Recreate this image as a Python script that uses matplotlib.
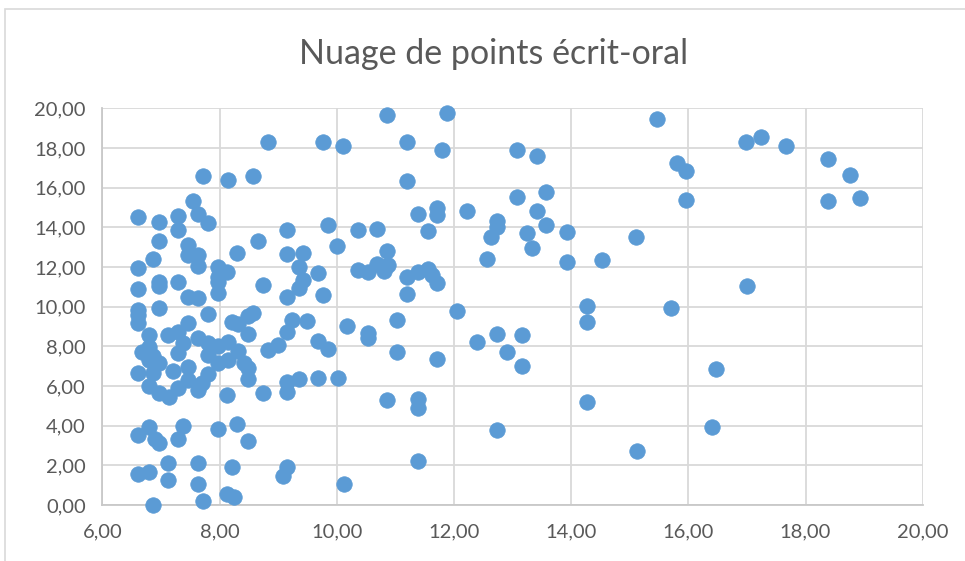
import matplotlib
matplotlib.use("Agg")
import matplotlib.pyplot as plt
from matplotlib.ticker import FuncFormatter, MultipleLocator
from matplotlib.patches import Rectangle

title = "Nuage de points écrit-oral"

ecrit = [
    10.86, 11.89, 15.46, 16.99, 17.24, 17.67, 8.82, 9.76, 10.10, 11.20,
    11.80, 13.08, 13.41, 15.80, 15.96, 18.39, 18.76, 7.71, 8.14, 8.58,
    11.20, 7.54, 15.96, 18.39, 18.93, 13.08, 13.58, 13.41, 12.22, 11.72,
    11.72, 11.38, 6.61, 6.96, 7.29, 7.64, 7.81, 7.29, 9.16, 9.86,
    10.37, 10.68, 11.55, 13.58, 13.25, 13.93, 12.74, 12.74, 12.64, 15.11,
    6.96, 7.47, 8.65, 10.01, 13.33, 10.86, 7.47, 7.64, 8.30, 9.16,
    9.42, 12.56, 13.93, 14.52, 6.87, 7.64, 6.61, 7.98, 8.13, 9.35,
    10.69, 10.88, 10.37, 10.53, 10.80, 11.38, 11.55, 11.20, 11.62, 11.72,
    9.68, 7.98, 9.42, 7.98, 6.96, 6.96, 7.29, 8.74, 17.00, 6.61,
    9.35, 7.98, 11.20, 9.76, 7.47, 7.64, 9.16, 14.27, 15.70, 12.05,
    6.61, 6.61, 6.61, 6.96, 7.81, 7.47, 8.21, 8.31, 8.48, 8.58,
    9.24, 9.49, 10.18, 11.03, 14.27, 8.48, 9.16, 10.53, 10.53, 12.74,
    13.16, 12.39, 6.79, 7.12, 7.29, 7.38, 7.64, 7.81, 7.98, 8.15,
    8.32, 8.99, 8.82, 9.68, 9.85, 11.03, 12.91, 6.67, 6.79, 6.79,
    6.96, 7.29, 7.81, 7.98, 8.15, 8.41, 8.49, 11.72, 13.16, 16.47,
    6.61, 6.87, 7.21, 7.47, 7.47, 7.81, 7.70, 8.48, 9.16, 9.36,
    9.68, 10.02, 6.79, 6.96, 7.13, 7.29, 7.64, 8.13, 8.75, 9.16,
    10.86, 11.38, 11.38, 14.27, 8.30, 6.79, 6.61, 6.90, 6.96, 7.38,
    7.29, 7.98, 8.48, 12.74, 16.40, 15.12, 11.38, 7.12, 7.64, 8.22,
    9.16, 9.08, 6.61, 6.79, 7.12, 7.64, 10.12, 6.87, 7.71, 8.13,
    8.24, 6.87,
]

oral = [
    19.66, 19.78, 19.44, 18.28, 18.54, 18.10, 18.28, 18.28, 18.08, 18.28,
    17.90, 17.90, 17.61, 17.26, 16.84, 17.43, 16.64, 16.59, 16.37, 16.58,
    16.35, 15.35, 15.38, 15.34, 15.49, 15.54, 15.80, 14.84, 14.84, 14.98,
    14.62, 14.67, 14.52, 14.28, 14.55, 14.68, 14.20, 13.88, 13.84, 14.12,
    13.84, 13.89, 13.81, 14.12, 13.73, 13.78, 14.33, 14.00, 13.50, 13.50,
    13.32, 13.12, 13.33, 13.07, 12.94, 12.82, 12.60, 12.60, 12.69, 12.65,
    12.69, 12.40, 12.27, 12.35, 12.40, 12.05, 11.93, 12.01, 11.76, 11.99,
    12.16, 12.08, 11.85, 11.76, 11.78, 11.76, 11.90, 11.51, 11.59, 11.19,
    11.71, 11.51, 11.36, 11.26, 11.26, 11.05, 11.25, 11.08, 11.04, 10.88,
    10.92, 10.70, 10.63, 10.59, 10.48, 10.43, 10.48, 10.05, 9.92, 9.78,
    9.82, 9.57, 9.18, 9.91, 9.63, 9.20, 9.24, 9.14, 9.52, 9.66,
    9.32, 9.29, 9.03, 9.34, 9.22, 8.62, 8.72, 8.65, 8.40, 8.62,
    8.57, 8.24, 8.58, 8.57, 8.74, 8.17, 8.40, 8.17, 8.00, 8.23,
    7.75, 8.06, 7.80, 8.25, 7.86, 7.73, 7.73, 7.70, 7.98, 7.31,
    7.14, 7.68, 7.56, 7.14, 7.31, 7.14, 6.89, 7.35, 7.02, 6.85,
    6.68, 6.63, 6.76, 6.97, 6.30, 6.58, 6.13, 6.33, 6.21, 6.33,
    6.42, 6.42, 6.00, 5.63, 5.46, 5.88, 5.80, 5.55, 5.63, 5.71,
    5.29, 5.33, 4.89, 5.20, 4.08, 3.92, 3.53, 3.31, 3.15, 3.98,
    3.31, 3.82, 3.23, 3.79, 3.95, 2.73, 2.21, 2.10, 2.13, 1.93,
    1.90, 1.46, 1.56, 1.67, 1.26, 1.04, 1.04, 0.00, 0.21, 0.53,
    0.41, 7.50,
]

x_min, x_max, x_step = 6, 20, 2
y_min, y_max, y_step = 0, 20, 2

W, H = 965, 561
fig = plt.figure(figsize=(W / 100, H / 100), dpi=100)
fig.patch.set_facecolor("white")

# outer chart border
fig.patches.append(Rectangle((5 / W, -0.02), 1.1, 1 - 9 / H + 0.02, transform=fig.transFigure,
                             fill=False, edgecolor="#d9d9d9", linewidth=1.2))

ax = fig.add_axes([102.3 / W, 1 - 505 / H, (922.7 - 102.3) / W, (505 - 108.3) / H])
ax.scatter(ecrit, oral, s=125, color="#5b9bd5", edgecolors="#5b9bd5", linewidths=0.5, zorder=3, clip_on=False)

ax.set_xlim(x_min, x_max)
ax.set_ylim(y_min, y_max)
ax.xaxis.set_major_locator(MultipleLocator(x_step))
ax.yaxis.set_major_locator(MultipleLocator(y_step))
fmt = FuncFormatter(lambda v, p: f"{v:.2f}".replace(".", ","))
ax.xaxis.set_major_formatter(fmt)
ax.yaxis.set_major_formatter(fmt)

ax.grid(True, color="#d9d9d9", linewidth=1.3, zorder=0)
ax.set_axisbelow(True)
for side in ["top", "right"]:
    ax.spines[side].set_visible(False)
ax.spines["left"].set_color("#c8c8c8")
ax.spines["bottom"].set_color("#c8c8c8")
ax.spines["left"].set_linewidth(1.3)
ax.spines["bottom"].set_linewidth(1.3)
ax.tick_params(axis="both", length=0, labelsize=14.5, labelcolor="#595959")
ax.tick_params(axis="x", pad=13)
ax.tick_params(axis="y", pad=12)
for lab in ax.get_xticklabels() + ax.get_yticklabels():
    lab.set_fontfamily("Lato")

fig.text(494 / W, 1 - 54 / H, title, ha="center", va="center", fontsize=24.5,
         color="#595959", fontfamily="Lato")

fig.savefig("out.png", dpi=100)
